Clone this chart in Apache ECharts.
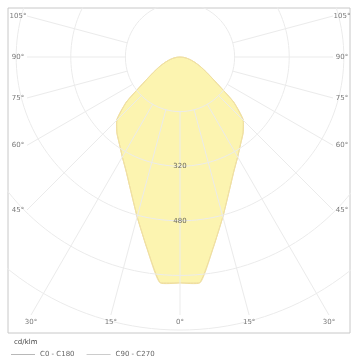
<!DOCTYPE html>
<html>
<head>
<meta charset="utf-8">
<script src="https://cdn.jsdelivr.net/npm/echarts@6/dist/echarts.min.js"></script>
<style>
  html, body { margin: 0; padding: 0; background: #fff; }
  #chart { width: 353px; height: 356px; }
</style>
</head>
<body>
<div id="chart"></div>
<script>
  // polar light distribution, angles from the downward vertical (deg)
  const gammaAngles = [0, 5, 10, 15, 20, 25, 30, 35, 40, 45, 50, 55, 60, 65, 70, 75, 80, 85, 90];
  // cd/klm
  const c0c180  = [662, 664, 565, 485, 420, 372, 338, 310, 288, 262, 205, 128, 90, 66, 47, 32, 20, 9, 0];
  const c90c270 = [662, 664, 565, 485, 420, 372, 338, 310, 288, 262, 205, 128, 90, 66, 47, 32, 20, 9, 0];

  const ringValues = [160, 320, 480, 640, 800];
  const ringLabels = ['320', '480'];
  const spokeAngles = [0, 15, 30, 45, 60, 75, 90, 105];
  const seriesNames = ['C0 - C180', 'C90 - C270'];

  // layout (pixels)
  const S = 2.93;            // cd per pixel
  const CX = 180, CY = 57;   // lamp position
  const FL = 8, FT = 8, FR = 350, FB = 333;
  const HW = 153, HB = 258;  // inner square half width / depth
  const rad = d => d * Math.PI / 180;

  function curvePoints(vals) {
    const pts = [];
    for (let i = gammaAngles.length - 1; i >= 0; i--) {
      const a = rad(gammaAngles[i]);
      pts.push([-vals[i] * Math.sin(a), -vals[i] * Math.cos(a)]);
    }
    for (let i = 1; i < gammaAngles.length; i++) {
      const a = rad(gammaAngles[i]);
      pts.push([vals[i] * Math.sin(a), -vals[i] * Math.cos(a)]);
    }
    return pts;
  }

  const lineGrey = '#ebebeb';
  const gridSeries = [];
  ringValues.forEach(r => {
    const d = [];
    for (let k = 0; k <= 360; k += 2) d.push([r * Math.sin(rad(k)), -r * Math.cos(rad(k))]);
    gridSeries.push({
      type: 'line', data: d, showSymbol: false, silent: true, z: 3,
      lineStyle: { color: lineGrey, width: 1 }
    });
  });

  const angleLabels = [];
  spokeAngles.forEach(g => {
    [-1, 1].forEach(sign => {
      if (g === 0 && sign < 0) return;
      const a = rad(g);
      const dx = sign * Math.sin(a), dy = -Math.cos(a);
      const tSide = Math.abs(dx) > 1e-6 ? HW / Math.abs(dx) : Infinity;
      const tBot = dy < 0 ? HB / -dy : Infinity;
      const t = Math.min(tSide, tBot) * S;
      const r0 = ringValues[0];
      gridSeries.push({
        type: 'line', data: [[dx * r0, dy * r0], [dx * t, dy * t]], showSymbol: false, silent: true, z: 3,
        lineStyle: { color: lineGrey, width: 1 }
      });
      if (tSide <= tBot) {
        angleLabels.push({ name: g + '°', value: [sign * 162 * S, dy * t] });
      } else {
        angleLabels.push({ name: g + '°', value: [dx * t, -265 * S] });
      }
    });
  });

  const ringLabelData = ringLabels.map(t => ({ name: t, value: [0, -Number(t)] }));

  const curve0 = curvePoints(c0c180);
  const curve90 = curvePoints(c90c270);

  const chart = echarts.init(document.getElementById('chart'));
  chart.setOption({
    animation: false,
    title: {
      text: 'cd/klm', left: 9, top: 334,
      textStyle: { fontSize: 7, fontWeight: 'normal', color: '#444', fontFamily: 'DejaVu Sans' }
    },
    legend: {
      left: 6, top: 346, itemWidth: 24, itemHeight: 1, itemGap: 12,
      textStyle: { fontSize: 7, color: '#666', fontFamily: 'DejaVu Sans' },
      data: [
        { name: seriesNames[0], icon: 'rect', itemStyle: { color: '#b8b8b8' } },
        { name: seriesNames[1], icon: 'rect', itemStyle: { color: '#cccccc' } }
      ]
    },
    grid: {
      left: FL, top: FT, right: 353 - FR, bottom: 356 - FB,
      show: true, borderColor: '#c8c8c8', borderWidth: 1, backgroundColor: '#fff'
    },
    xAxis: {
      type: 'value', min: -(CX - FL) * S, max: (FR - CX) * S, show: false, splitLine: { show: false }
    },
    yAxis: {
      type: 'value', min: -(FB - CY) * S, max: (CY - FT) * S, show: false, splitLine: { show: false }
    },
    series: [
      {
        name: seriesNames[0], type: 'custom', data: curve0, z: 2,
        encode: { x: 0, y: 1 },
        renderItem: function (params, api) {
          if (params.dataIndex !== 0) return;
          const pts = curve0.map(p => api.coord(p));
          return {
            type: 'polygon', shape: { points: pts, smooth: 0.15 },
            style: { fill: '#fcf4b0', stroke: '#efdc9a', lineWidth: 1 }
          };
        }
      },
      {
        name: seriesNames[1], type: 'line', data: curve90, showSymbol: false, z: 2, smooth: 0.15,
        lineStyle: { color: '#f0e0a4', width: 1 }
      },
      ...gridSeries,
      {
        type: 'scatter', data: angleLabels, symbolSize: 0, silent: true, z: 5,
        label: {
          show: true, position: 'inside', formatter: '{b}',
          fontSize: 7, color: '#555', fontFamily: 'DejaVu Sans'
        }
      },
      {
        type: 'scatter', data: ringLabelData, symbolSize: 0, silent: true, z: 5,
        label: {
          show: true, position: 'inside', formatter: '{b}',
          fontSize: 7, color: '#444', fontFamily: 'DejaVu Sans'
        }
      }
    ]
  });
</script>
</body>
</html>
